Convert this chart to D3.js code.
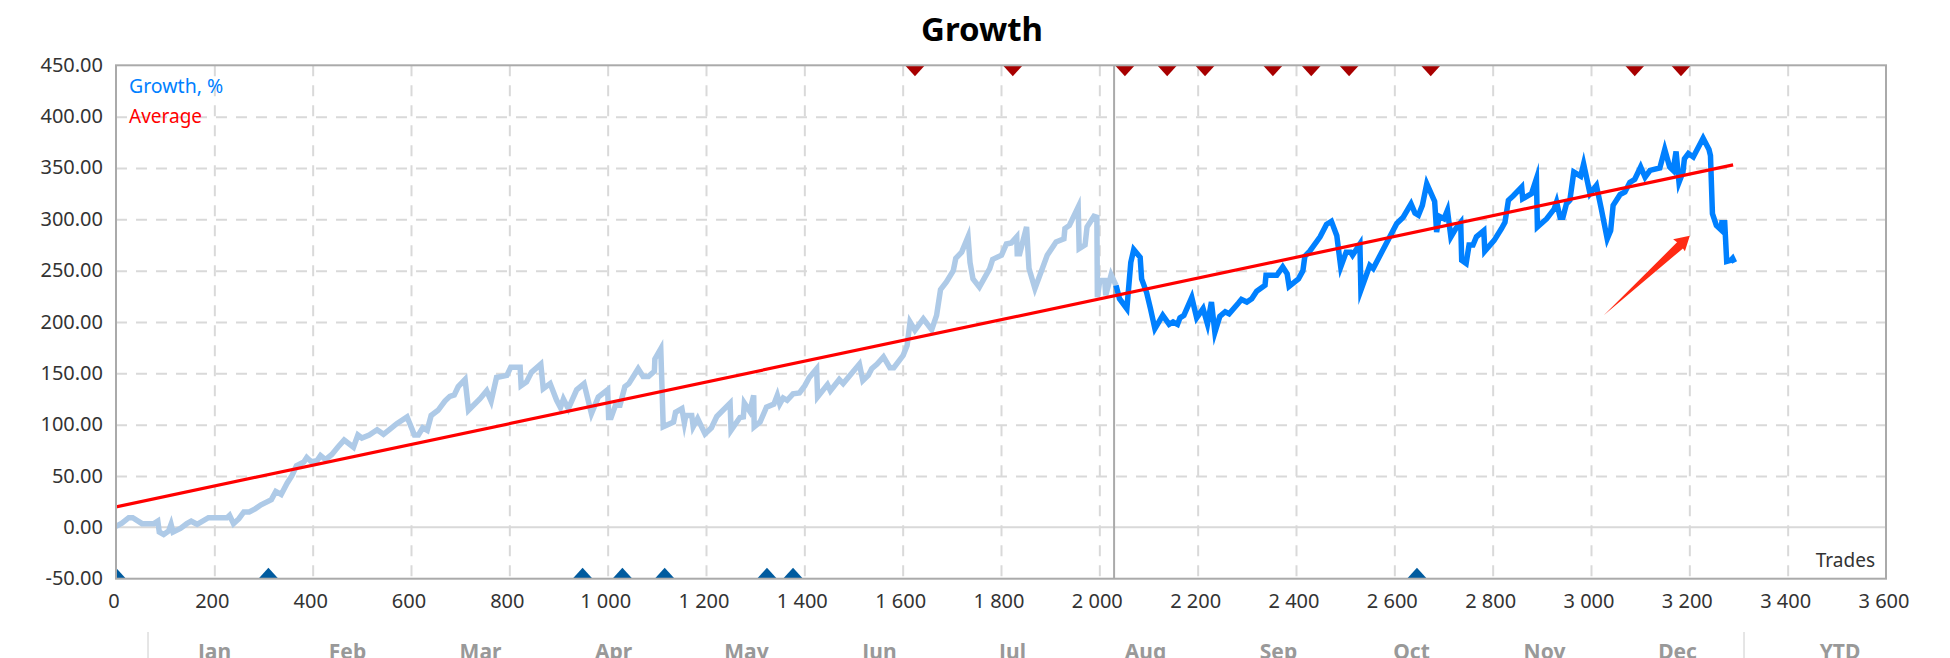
<!DOCTYPE html>
<html>
<head>
<meta charset="utf-8">
<script src="https://cdn.jsdelivr.net/npm/d3@7"></script>
<style>
  html, body { margin: 0; padding: 0; background: #fff; overflow: hidden; }
  svg { display: block; }
  text { font-family: "Noto Sans", sans-serif; }
</style>
</head>
<body>
<div id="chart"></div>
<script>
const tradeCounts = [
  0, 12, 26, 34, 53, 77, 85, 88, 97, 107, 112, 116, 131, 144, 153, 165, 188, 226, 231, 239,
  250, 260, 271, 283, 295, 316, 325, 336, 348, 358, 367, 382, 388, 397, 409, 416, 426, 439, 451, 464,
  483, 492, 500, 515, 531, 544, 558, 571, 592, 607, 615, 624, 633, 641, 655, 669, 679, 688, 696, 710,
  717, 740, 754, 763, 774, 795, 803, 822, 824, 835, 845, 864, 869, 883, 896, 904, 910, 920, 937, 952,
  967, 981, 1000, 1002, 1007, 1016, 1025, 1035, 1043, 1062, 1072, 1083, 1095, 1096, 1108, 1113, 1134, 1138, 1151, 1156,
  1159, 1171, 1174, 1183, 1198, 1211, 1222, 1249, 1251, 1269, 1276, 1278, 1289, 1297, 1298, 1310, 1323, 1338, 1345, 1350,
  1357, 1365, 1377, 1390, 1401, 1410, 1425, 1427, 1447, 1453, 1471, 1479, 1512, 1519, 1530, 1537, 1548, 1561, 1574, 1582,
  1601, 1609, 1615, 1625, 1642, 1659, 1669, 1677, 1689, 1703, 1708, 1720, 1733, 1737, 1743, 1756, 1777, 1783, 1801, 1811,
  1821, 1832, 1833, 1838, 1852, 1857, 1869, 1894, 1912, 1928, 1930, 1939, 1957, 1959, 1971, 1975, 1989, 1995, 1996, 2001,
  2011, 2013, 2024, 2034, 2041, 2056, 2064, 2070, 2083, 2086, 2096, 2104, 2113, 2129, 2142, 2150, 2159, 2164, 2172, 2188,
  2198, 2211, 2220, 2228, 2235, 2245, 2256, 2264, 2283, 2289, 2300, 2310, 2320, 2337, 2339, 2361, 2373, 2382, 2386, 2405,
  2414, 2418, 2428, 2449, 2462, 2472, 2483, 2491, 2502, 2511, 2515, 2530, 2532, 2550, 2557, 2578, 2605, 2618, 2634, 2642,
  2649, 2657, 2666, 2682, 2686, 2691, 2701, 2708, 2715, 2725, 2735, 2737, 2746, 2752, 2760, 2767, 2782, 2784, 2803, 2818,
  2825, 2832, 2842, 2859, 2861, 2879, 2889, 2891, 2910, 2925, 2930, 2937, 2943, 2950, 2957, 2965, 2979, 2985, 2998, 3011,
  3021, 3033, 3040, 3045, 3059, 3069, 3079, 3089, 3101, 3110, 3120, 3140, 3150, 3160, 3167, 3173, 3179, 3187, 3190, 3198,
  3208, 3228, 3240, 3243, 3247, 3255, 3264, 3266, 3272, 3276, 3284, 3288, 3292
];
const growthValues = [
  1, 4, 9.4, 9.4, 3.6, 3.6, 6, -4.5, -7, -3.5, 3, -4.5, -1, 3.6, 6, 3, 9.4, 9.4, 11.7, 3.6,
  8.4, 15, 15, 18, 22, 27, 35, 32, 43, 50.6, 60, 63.6, 68, 64, 65, 70, 66, 71, 78, 85,
  78, 90, 87, 90, 95, 90.6, 96, 101, 107.5, 90, 90, 97, 94.5, 109, 114, 123, 127.6, 129, 137, 144,
  114, 125, 133, 123, 146, 148, 156, 156, 138, 141.6, 151, 159, 135, 140, 124, 116.6, 125, 115.6, 134, 140,
  110.7, 127, 134, 107, 107, 119, 119, 137, 140, 154.5, 147, 147, 152, 164, 174, 98, 102.6, 112, 115.6, 101.6,
  109, 109, 98, 106, 91, 97, 108, 121, 94.5, 107, 107.5, 121, 113, 128.6, 98, 102.6, 117, 120, 128.6, 120,
  126, 123.7, 130, 131, 138, 146, 154.5, 127, 139, 133, 144, 140, 159, 143, 148, 154.5, 159, 166, 155.5, 155.5,
  167.5, 177, 200, 192, 203, 192.5, 206.5, 231.5, 239, 250, 262, 268, 283, 258, 242, 234, 252, 261, 265, 276,
  277, 283, 266.5, 266.5, 292.5, 252, 232.5, 265, 278, 281, 291, 294, 312, 271.4, 275, 292.5, 303, 302, 224, 240.5,
  240.5, 226, 246, 235.7, 222.7, 213, 258, 270.5, 263, 242, 229, 213, 193.5, 206.5, 197.7, 200, 197.7, 204, 206.5, 224,
  204, 213, 198, 219.5, 190, 205.5, 210, 208, 218.5, 222, 219.5, 222.7, 230, 235.7, 245.5, 245.5, 253.6, 247, 234.7, 242,
  249.7, 264, 269, 283, 295, 298, 284, 253.6, 268, 268, 265, 276, 231, 255, 252, 271.4, 296, 302, 315, 306,
  304, 313.6, 334.7, 317.5, 287.7, 303, 300.6, 308.8, 282.8, 291, 297, 260, 257, 275, 275, 283, 289, 269, 279.5, 291,
  297, 318.5, 323, 331.5, 320, 325, 339.6, 292.5, 300.6, 310, 317, 302, 302, 315, 318.5, 346, 342, 354, 325, 333,
  310, 281, 289, 313.6, 324, 326.6, 336, 339, 351, 341, 347.7, 350, 368, 351, 347.7, 366, 336, 346, 359, 364,
  360.7, 379, 368, 362, 305.5, 294, 290, 296.7, 296.7, 259, 260, 262, 258
];
const averageTrades = [0, 3289];
const averageValues = [20, 353];
const buyTrades = [0, 310, 949, 1030, 1116, 1324, 1377, 2646];
const sellTrades = [1625, 1824, 2052, 2138, 2215, 2353, 2431, 2508, 2674, 3089, 3183];
const arrowTrades = [3026, 3175, 3167, 3201, 3191, 3187];
const arrowValues = [206.5, 277.6, 280.5, 284, 268.8, 271.7];
const months = ['Jan', 'Feb', 'Mar', 'Apr', 'May', 'Jun', 'Jul', 'Aug', 'Sep', 'Oct', 'Nov', 'Dec'];
const splitTrade = 2034;
const markerTrade = 2030;

const width = 1950;
const height = 658;
const margin = { top: 65.3, right: 64, bottom: 79.3, left: 116 };

const svg = d3.select('#chart').append('svg')
  .attr('width', width)
  .attr('height', height);

const x = d3.scaleLinear().domain([0, 3600]).range([margin.left, width - margin.right]);
const y = d3.scaleLinear().domain([-50, 450]).range([height - margin.bottom, margin.top]);
const monthBand = d3.scaleBand().domain(months).range([148, 1744]);

const points = tradeCounts.map((t, i) => ({ t, v: growthValues[i] }));
const spaced = d3.formatLocale({ decimal: '.', thousands: ' ', grouping: [3], currency: ['', ''] }).format(',d');
const fixed = d3.formatLocale({ decimal: '.', thousands: '', grouping: [3], currency: ['', ''], minus: '-' }).format('.2f');

svg.append('defs').append('clipPath').attr('id', 'plot-clip')
  .append('rect')
  .attr('x', x(0))
  .attr('y', y(450))
  .attr('width', x(3600) - x(0))
  .attr('height', y(-50) - y(450));

// Grid
const xGrid = svg.append('g')
  .attr('transform', `translate(0,${y(450)})`)
  .call(d3.axisBottom(x).tickValues(d3.range(200, 3600, 200)).tickSize(y(-50) - y(450)).tickFormat(''));
const yGrid = svg.append('g')
  .attr('transform', `translate(${x(0)},0)`)
  .call(d3.axisRight(y).tickValues(d3.range(-50, 450, 50).filter(d => d !== 0 && d !== -50)).tickSize(x(3600) - x(0)).tickFormat(''));
[xGrid, yGrid].forEach(g => {
  g.select('.domain').remove();
  g.selectAll('line')
    .attr('stroke', '#d9d9d9')
    .attr('stroke-width', 2)
    .attr('stroke-dasharray', '11,9');
});

svg.append('line')
  .attr('x1', x(0)).attr('x2', x(3600))
  .attr('y1', y(0)).attr('y2', y(0))
  .attr('stroke', '#d9d9d9')
  .attr('stroke-width', 2);

svg.append('line')
  .attr('x1', x(markerTrade)).attr('x2', x(markerTrade))
  .attr('y1', y(450)).attr('y2', y(-50))
  .attr('stroke', '#aaaaaa')
  .attr('stroke-width', 2);

// Deal markers sitting on the frame
const plot = svg.append('g').attr('clip-path', 'url(#plot-clip)');
plot.selectAll('.buy')
  .data(buyTrades)
  .enter().append('path')
  .attr('class', 'buy')
  .attr('d', d => `M${x(d) - 10},${y(-50)}L${x(d)},${y(-50) - 11}L${x(d) + 10},${y(-50)}Z`)
  .attr('fill', '#005b9f');
plot.selectAll('.sell')
  .data(sellTrades)
  .enter().append('path')
  .attr('class', 'sell')
  .attr('d', d => `M${x(d) - 10},${y(450)}L${x(d)},${y(450) + 11}L${x(d) + 10},${y(450)}Z`)
  .attr('fill', '#a80000');

// Growth line, pale before the marker and bright after it
const line = d3.line().x(d => x(d.t)).y(d => y(d.v));
plot.append('path')
  .datum(points.filter(d => d.t <= splitTrade))
  .attr('d', line)
  .attr('fill', 'none')
  .attr('stroke', '#aecae7')
  .attr('stroke-width', 5.5)
  .attr('stroke-linejoin', 'miter')
  .attr('stroke-miterlimit', 6);
plot.append('path')
  .datum(points.filter(d => d.t >= splitTrade))
  .attr('d', line)
  .attr('fill', 'none')
  .attr('stroke', '#0080ff')
  .attr('stroke-width', 5.5)
  .attr('stroke-linejoin', 'miter')
  .attr('stroke-miterlimit', 6);

plot.append('line')
  .attr('x1', x(averageTrades[0])).attr('y1', y(averageValues[0]))
  .attr('x2', x(averageTrades[1])).attr('y2', y(averageValues[1]))
  .attr('stroke', '#ff0000')
  .attr('stroke-width', 3.2);

// Frame
svg.append('rect')
  .attr('x', x(0))
  .attr('y', y(450))
  .attr('width', x(3600) - x(0))
  .attr('height', y(-50) - y(450))
  .attr('fill', 'none')
  .attr('stroke', '#aaaaaa')
  .attr('stroke-width', 2);

// Annotation arrow
svg.append('polygon')
  .attr('points', arrowTrades.map((t, i) => `${x(t)},${y(arrowValues[i])}`).join(' '))
  .attr('fill', '#ff2a14');

// Axes
const yAxis = svg.append('g')
  .attr('transform', `translate(${x(0)},0)`)
  .call(d3.axisLeft(y).tickValues(d3.range(-50, 451, 50)).tickSize(0).tickPadding(13).tickFormat(fixed));
const xAxis = svg.append('g')
  .attr('transform', `translate(0,${y(-50)})`)
  .call(d3.axisBottom(x).tickValues(d3.range(0, 3601, 200)).tickSize(0).tickPadding(15).tickFormat(spaced));
yAxis.select('.domain').remove();
xAxis.select('.domain').remove();
yAxis.selectAll('text').attr('dy', '0.3em');
xAxis.selectAll('text').attr('dx', -2.5);
[yAxis, xAxis].forEach(g => {
  g.selectAll('text')
    .attr('font-family', '"Noto Sans", sans-serif')
    .attr('font-size', 20)
    .attr('fill', '#333333');
});

svg.append('text')
  .attr('x', 982)
  .attr('y', 41)
  .attr('text-anchor', 'middle')
  .attr('font-size', 33)
  .attr('font-weight', 'bold')
  .attr('fill', '#000')
  .text('Growth');

svg.append('text')
  .attr('x', 129)
  .attr('y', 93)
  .attr('font-size', 19.5)
  .attr('fill', '#0080ff')
  .text('Growth, %');
svg.append('text')
  .attr('x', 129)
  .attr('y', 123)
  .attr('font-size', 19)
  .attr('fill', '#ff0000')
  .text('Average');

svg.append('text')
  .attr('x', 1875)
  .attr('y', 567)
  .attr('text-anchor', 'end')
  .attr('font-size', 19)
  .attr('fill', '#333333')
  .text('Trades');

// Month table header, cut off by the bottom of the picture
svg.selectAll('.month')
  .data(months)
  .enter().append('text')
  .attr('class', 'month')
  .attr('x', d => monthBand(d) + monthBand.bandwidth() / 2)
  .attr('y', 659)
  .attr('text-anchor', 'middle')
  .attr('font-size', 21)
  .attr('font-weight', 'bold')
  .attr('fill', '#999999')
  .text(d => d);
svg.append('text')
  .attr('x', 1840)
  .attr('y', 659)
  .attr('text-anchor', 'middle')
  .attr('font-size', 21)
  .attr('font-weight', 'bold')
  .attr('fill', '#999999')
  .text('YTD');

[monthBand.range()[0], monthBand.range()[1]].forEach(d => {
  svg.append('line')
    .attr('x1', d).attr('x2', d)
    .attr('y1', 632).attr('y2', height)
    .attr('stroke', '#cccccc')
    .attr('stroke-width', 1);
});
</script>
</body>
</html>
